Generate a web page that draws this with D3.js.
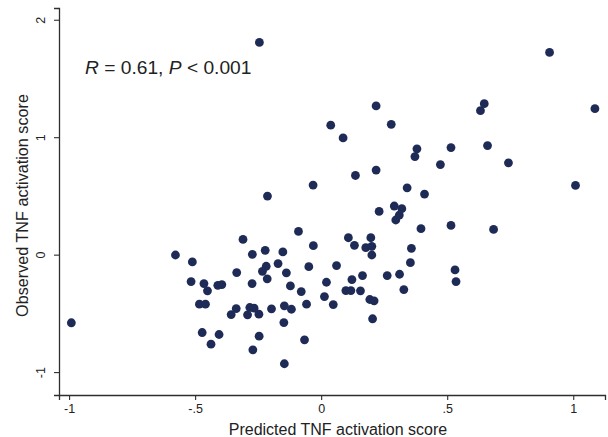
<!DOCTYPE html>
<html>
<head>
<meta charset="utf-8">
<script src="https://cdn.jsdelivr.net/npm/d3@7"></script>
<style>
  html, body { margin: 0; padding: 0; background: #fff; }
  svg { display: block; font-family: "Liberation Sans", Arial, Helvetica, sans-serif; }
</style>
</head>
<body>
<svg id="chart" width="608" height="437"></svg>
<script>
// Predicted TNF activation score (x) vs observed (y)
const predicted = [
  -0.991, -0.245, 0.906, 1.086, 0.647, 0.632, 0.218, 0.038, 0.278, 0.087,
  0.218, 0.136, -0.032, -0.213, 0.290, 0.230, 0.320, 0.310, 0.296, -0.090,
  -0.310, 0.108, 0.197, 0.132, -0.031, 0.177, 0.201, -0.222, -0.273, -0.152,
  -0.578, 0.201, -0.511, -0.171, -0.218, -0.233, -0.335, -0.138, -0.049, 0.061,
  0.021, 0.122, 0.164, 0.262, 0.311, -0.516, -0.465, -0.451, -0.410, -0.394,
  -0.274, -0.214, -0.122, -0.079, 0.013, 0.098, 0.118, 0.156, 0.193, 0.210,
  0.048, -0.058, -0.483, -0.459, -0.337, -0.357, -0.283, -0.266, -0.292, -0.247,
  -0.197, -0.146, -0.118, -0.148, 0.204, -0.472, -0.405, -0.437, -0.246, -0.066,
  -0.271, -0.146, 0.380, 0.372, 0.515, 0.660, 0.743, 0.473, 0.341, 0.410,
  1.009, 0.396, 0.515, 0.684, 0.358, 0.354, 0.531, 0.535, 0.328
];
const observed = [
  -0.580, 1.807, 1.722, 1.243, 1.285, 1.226, 1.266, 1.102, 1.110, 0.994,
  0.720, 0.674, 0.592, 0.499, 0.414, 0.368, 0.391, 0.337, 0.295, 0.198,
  0.130, 0.144, 0.144, 0.079, 0.076, 0.059, 0.071, 0.037, 0.003, 0.023,
  -0.003, -0.003, -0.062, -0.076, -0.099, -0.142, -0.153, -0.155, -0.102, -0.093,
  -0.235, -0.212, -0.178, -0.178, -0.167, -0.229, -0.246, -0.308, -0.261, -0.255,
  -0.246, -0.206, -0.266, -0.314, -0.357, -0.306, -0.306, -0.308, -0.382, -0.393,
  -0.425, -0.422, -0.422, -0.422, -0.459, -0.510, -0.450, -0.456, -0.512, -0.507,
  -0.461, -0.436, -0.465, -0.578, -0.546, -0.663, -0.680, -0.762, -0.694, -0.725,
  -0.810, -0.929, 0.901, 0.835, 0.912, 0.929, 0.782, 0.767, 0.569, 0.516,
  0.589, 0.221, 0.249, 0.215, 0.054, -0.068, -0.130, -0.229, -0.297
];
const xTicks = [-1, -0.5, 0, 0.5, 1];
const xTickLabels = ["-1", "-.5", "0", ".5", "1"];
const yTicks = [-1, 0, 1, 2];
const yTickLabels = ["-1", "0", "1", "2"];
const xTitle = "Predicted TNF activation score";
const yTitle = "Observed TNF activation score";

const svg = d3.select("#chart");
const mLeft = 59, mRight = 605, mTop = 8, mBottom = 395;

const x = d3.scaleLinear().domain([-1.04, 1.126]).range([mLeft, mRight]);
const y = d3.scaleLinear().domain([-1.195, 2.1]).range([mBottom, mTop]);

const axisColor = "#2e2e2e";
const textColor = "#222";

// X axis
const gx = svg.append("g").attr("transform", `translate(0,${mBottom})`)
  .call(d3.axisBottom(x).tickValues(xTicks).tickSizeOuter(0).tickSize(5)
    .tickFormat((d, i) => xTickLabels[i]));
gx.select(".domain").attr("stroke", axisColor).attr("stroke-width", 1.3);
gx.selectAll(".tick line").attr("stroke", axisColor).attr("stroke-width", 1.1);
gx.selectAll(".tick text").attr("fill", textColor).attr("font-size", "12.5px")
  .attr("font-family", "Liberation Sans, Arial, sans-serif").attr("y", 9).attr("dy", "0.71em");

// Y axis
const gy = svg.append("g").attr("transform", `translate(${mLeft},0)`)
  .call(d3.axisLeft(y).tickValues(yTicks).tickSizeOuter(0).tickSize(5)
    .tickFormat((d, i) => yTickLabels[i]));
gy.select(".domain").attr("stroke", axisColor).attr("stroke-width", 1.3);
gy.selectAll(".tick line").attr("stroke", axisColor).attr("stroke-width", 1.1);
gy.selectAll(".tick text").attr("fill", textColor).attr("font-size", "12.5px")
  .attr("font-family", "Liberation Sans, Arial, sans-serif")
  .attr("x", null).attr("dy", null)
  .attr("text-anchor", "middle")
  .attr("transform", "translate(-14,0) rotate(-90)");

// Titles
svg.append("text").attr("x", 338).attr("y", 435).attr("text-anchor", "middle")
  .attr("font-size", "16px").attr("fill", textColor).text(xTitle);
svg.append("text").attr("transform", "translate(27.5,205.5) rotate(-90)")
  .attr("text-anchor", "middle").attr("font-size", "16.2px").attr("fill", textColor).text(yTitle);

// Annotation
const ann = svg.append("text").attr("x", 85).attr("y", 74).attr("font-size", "19.2px").attr("fill", textColor);
ann.append("tspan").attr("font-style", "italic").text("R");
ann.append("tspan").text(" = 0.61, ");
ann.append("tspan").attr("font-style", "italic").text("P");
ann.append("tspan").text(" < 0.001");

// Points
const pts = predicted.map((p, i) => ({ p, o: observed[i] }));
svg.append("g").selectAll("circle").data(pts).join("circle")
  .attr("cx", d => x(d.p)).attr("cy", d => y(d.o)).attr("r", 4.4)
  .attr("fill", "#1f2b57");
</script>
</body>
</html>
